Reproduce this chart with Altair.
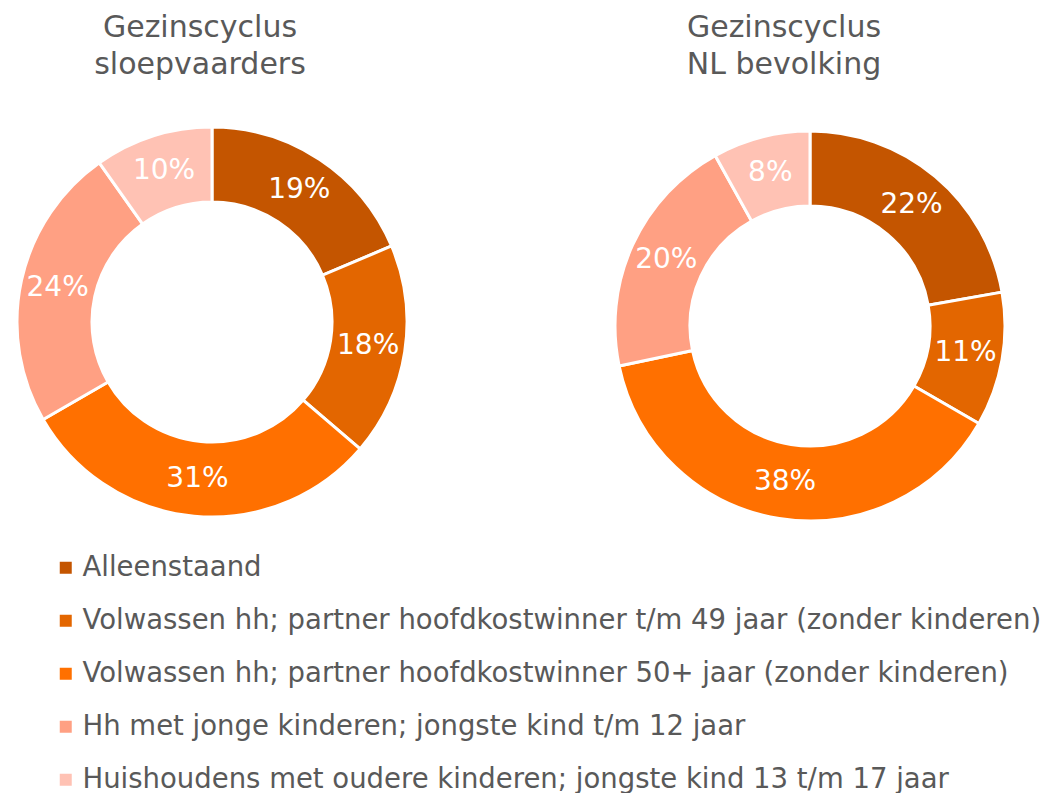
import altair as alt
import pandas as pd

categories = [
    "Alleenstaand",
    "Volwassen hh; partner hoofdkostwinner t/m 49 jaar (zonder kinderen)",
    "Volwassen hh; partner hoofdkostwinner 50+ jaar (zonder kinderen)",
    "Hh met jonge kinderen; jongste kind t/m 12 jaar",
    "Huishoudens met oudere kinderen; jongste kind 13 t/m 17 jaar",
]
colors = ["#C45500", "#E36600", "#FF7000", "#FFA083", "#FFC2B4"]
sloep_values = [19, 18, 31, 24, 10]
nl_values = [22, 11, 38, 20, 8]
title_left = ["Gezinscyclus", "sloepvaarders"]
title_right = ["Gezinscyclus", "NL bevolking"]

FONT = "DejaVu Sans"
GRAY = "#595959"


def donut_df(values):
    return pd.DataFrame({
        "cat": categories,
        "idx": list(range(len(categories))),
        "value": values,
        "label": [f"{v}%" for v in values],
    })


color_scale = alt.Scale(domain=categories, range=colors)


def donut(values, cx, cy, with_legend):
    df = donut_df(values)
    base = alt.Chart(df)
    legend = None
    if with_legend:
        legend = alt.Legend(
            orient="none", legendX=44, legendY=546, title=None,
            symbolType="square", symbolSize=144, symbolStrokeWidth=0,
            labelFont=FONT, labelFontSize=27.5, labelColor=GRAY,
            labelLimit=1200, labelOffset=3, rowPadding=24, padding=0,
            direction="vertical",
        )
    arc = base.mark_arc(innerRadius=120, outerRadius=195, stroke="white", strokeWidth=3).encode(
        theta=alt.Theta("value:Q", stack="normalize"),
        order=alt.Order("idx:Q"),
        color=alt.Color("cat:N", scale=color_scale, legend=legend, sort=categories),
        x=alt.value(cx), y=alt.value(cy),
    )
    text = base.mark_text(radius=158, font=FONT, fontSize=28, color="white").encode(
        theta=alt.Theta("value:Q", stack="normalize"),
        order=alt.Order("idx:Q"),
        text="label:N",
        x=alt.value(cx), y=alt.value(cy),
    )
    return arc, text


def title(lines, cx):
    df = pd.DataFrame({"t": ["\n".join(lines)]})
    return alt.Chart(df).mark_text(
        font=FONT, fontSize=30, color=GRAY, lineBreak="\n", lineHeight=37,
        baseline="alphabetic", align="center",
    ).encode(text="t:N", x=alt.value(cx), y=alt.value(29))


a1, t1 = donut(sloep_values, 204, 314, True)
a2, t2 = donut(nl_values, 802, 318, False)

chart = alt.layer(
    a1, t1, a2, t2, title(title_left, 192), title(title_right, 776)
).resolve_scale(theta="independent").properties(
    width=1043, height=785, padding=0,
    autosize=alt.AutoSizeParams(type="none"),
).configure_view(stroke=None)

chart.save("out.html", embed_options={"renderer": "svg", "actions": False})
